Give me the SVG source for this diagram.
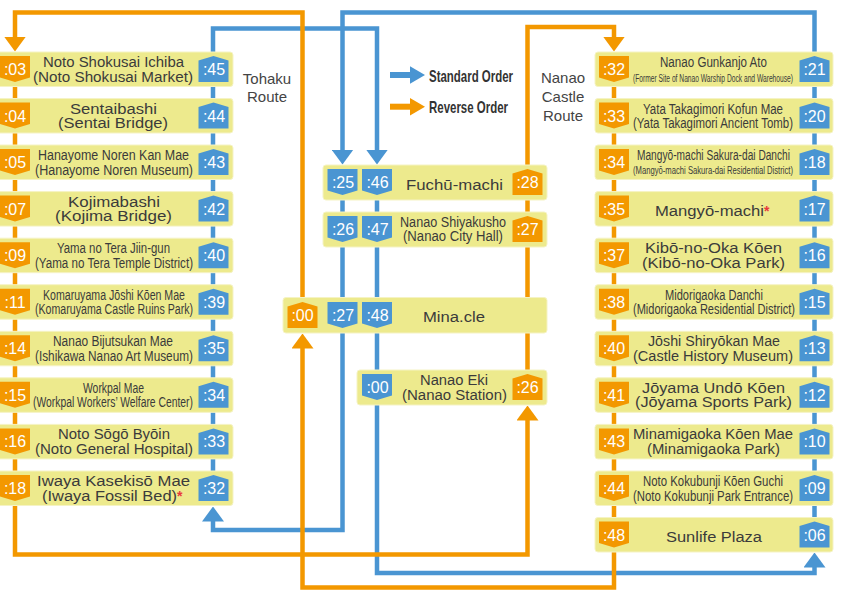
<svg xmlns="http://www.w3.org/2000/svg" xmlns:xlink="http://www.w3.org/1999/xlink" width="842" height="591" viewBox="0 0 842 591">
<style>
.bg{fill:#ffffff}
.box{fill:#EDEA8D;stroke:#F5F3C4;stroke-width:1}
.o{fill:#F39800}
.b{fill:#4A95D2}
.ol{fill:none;stroke:#F39800;stroke-width:4.5}
.bl{fill:none;stroke:#4A95D2;stroke-width:4.5}
text{font-family:"Liberation Sans",Arial,sans-serif}
.tx{fill:#3b3b3b;text-anchor:middle}
.ts{fill:#3b3b3b;text-anchor:start}
.l{font-size:15.3px}
.m{font-size:14px}
.s{font-size:11.5px}
.xs{font-size:10px}
.bt{fill:#ffffff;font-size:16px;text-anchor:middle}
.ast{fill:#E8383D;font-size:14px;font-weight:bold}
.rl{fill:#444444;font-size:15px;text-anchor:middle}
.lg{fill:#333333;font-size:17px;font-weight:bold}
</style>
<defs>
<path id="bdn" d="M-15,-13 H15 V8.5 L0,13 L-15,8.5 Z"/>
<path id="bup" d="M0,-13 L15,-8.5 V13 H-15 V-8.5 Z"/>
<marker id="ao" viewBox="0 -11 15 22" markerWidth="15" markerHeight="22" refX="0.5" refY="0" orient="auto" markerUnits="userSpaceOnUse"><path d="M0,-11 L15,0 L0,11 Z" fill="#F39800"/></marker>
<marker id="ab" viewBox="0 -11 15 22" markerWidth="15" markerHeight="22" refX="0.5" refY="0" orient="auto" markerUnits="userSpaceOnUse"><path d="M0,-11 L15,0 L0,11 Z" fill="#4A95D2"/></marker>
</defs>
<rect class="bg" x="0" y="0" width="842" height="591"/>

<g id="connectors">
<path class="bl" d="M814.5,552 V12.5 H342.5 V150" marker-end="url(#ab)"/>
<path class="bl" d="M342.5,200 V530 H213 V521" marker-end="url(#ab)"/>
<path class="bl" d="M213,506 V28.5 H377 V150" marker-end="url(#ab)"/>
<path class="bl" d="M377,200 V573 H814.5 V567" marker-end="url(#ab)"/>
<path class="ol" d="M302.5,297 V12.5 H15 V37" marker-end="url(#ao)"/>
<path class="ol" d="M15,52 V554.5 H527.5 V420" marker-end="url(#ao)"/>
<path class="ol" d="M527.5,370 V27 H614 V37" marker-end="url(#ao)"/>
<path class="ol" d="M614,52 V587.5 H302.5 V348" marker-end="url(#ao)"/>
</g>

<g id="legend">
<rect class="b" x="390" y="72" width="21" height="6"/>
<polygon class="b" points="410,66.2 425,75 410,83.8"/>
<text class="lg" x="429" y="81.5" textLength="84" lengthAdjust="spacingAndGlyphs">Standard Order</text>
<rect class="o" x="390" y="103.7" width="21" height="6"/>
<polygon class="o" points="410,97.9 425,106.7 410,115.5"/>
<text class="lg" x="429" y="113.2" textLength="79" lengthAdjust="spacingAndGlyphs">Reverse Order</text>
</g>

<g id="label-tohaku">
<text class="rl" x="267" y="83.5">Tohaku</text>
<text class="rl" x="267" y="102">Route</text>
</g>
<g id="label-nanao-castle">
<text class="rl" x="563" y="83">Nanao</text>
<text class="rl" x="563" y="102">Castle</text>
<text class="rl" x="563" y="120.5">Route</text>
</g>

<!-- Left column: Tohaku Route -->
<g id="n-noto-shokusai" transform="translate(0,52)">
<rect class="box" x="-5" y="0" width="238" height="34.5" rx="3"/>
<use href="#bdn" class="o" x="15" y="17"/><text class="bt" x="15" y="23">:03</text>
<use href="#bup" class="b" x="213.5" y="17"/><text class="bt" x="214" y="23">:45</text>
<text class="tx l" x="113.5" y="15" textLength="141" lengthAdjust="spacingAndGlyphs">Noto Shokusai Ichiba</text>
<text class="tx l" x="113" y="29.5" textLength="160" lengthAdjust="spacingAndGlyphs">(Noto Shokusai Market)</text>
</g>
<g id="n-sentaibashi" transform="translate(0,98.5)">
<rect class="box" x="-5" y="0" width="238" height="34.5" rx="3"/>
<use href="#bdn" class="o" x="15" y="17"/><text class="bt" x="15" y="23">:04</text>
<use href="#bup" class="b" x="213.5" y="17"/><text class="bt" x="214" y="23">:44</text>
<text class="tx l" x="113.5" y="15" textLength="87" lengthAdjust="spacingAndGlyphs">Sentaibashi</text>
<text class="tx l" x="113" y="29.5" textLength="110" lengthAdjust="spacingAndGlyphs">(Sentai Bridge)</text>
</g>
<g id="n-hanayome" transform="translate(0,145)">
<rect class="box" x="-5" y="0" width="238" height="34.5" rx="3"/>
<use href="#bdn" class="o" x="15" y="17"/><text class="bt" x="15" y="23">:05</text>
<use href="#bup" class="b" x="213.5" y="17"/><text class="bt" x="214" y="23">:43</text>
<text class="tx m" x="113.5" y="15" textLength="151" lengthAdjust="spacingAndGlyphs">Hanayome Noren Kan Mae</text>
<text class="tx m" x="114" y="29.5" textLength="158" lengthAdjust="spacingAndGlyphs">(Hanayome Noren Museum)</text>
</g>
<g id="n-kojimabashi" transform="translate(0,191.6)">
<rect class="box" x="-5" y="0" width="238" height="34.5" rx="3"/>
<use href="#bdn" class="o" x="15" y="17"/><text class="bt" x="15" y="23">:07</text>
<use href="#bup" class="b" x="213.5" y="17"/><text class="bt" x="214" y="23">:42</text>
<text class="tx l" x="114" y="15" textLength="92" lengthAdjust="spacingAndGlyphs">Kojimabashi</text>
<text class="tx l" x="113.5" y="29.5" textLength="117" lengthAdjust="spacingAndGlyphs">(Kojima Bridge)</text>
</g>
<g id="n-yama-no-tera" transform="translate(0,238.2)">
<rect class="box" x="-5" y="0" width="238" height="34.5" rx="3"/>
<use href="#bdn" class="o" x="15" y="17"/><text class="bt" x="15" y="23">:09</text>
<use href="#bup" class="b" x="213.5" y="17"/><text class="bt" x="214" y="23">:40</text>
<text class="tx m" x="113.5" y="15" textLength="113" lengthAdjust="spacingAndGlyphs">Yama no Tera Jiin-gun</text>
<text class="tx m" x="114" y="29.5" textLength="158" lengthAdjust="spacingAndGlyphs">(Yama no Tera Temple District)</text>
</g>
<g id="n-komaruyama" transform="translate(0,284.7)">
<rect class="box" x="-5" y="0" width="238" height="34.5" rx="3"/>
<use href="#bdn" class="o" x="15" y="17"/><text class="bt" x="15" y="23">:11</text>
<use href="#bup" class="b" x="213.5" y="17"/><text class="bt" x="214" y="23">:39</text>
<text class="tx m" x="114" y="15" textLength="142" lengthAdjust="spacingAndGlyphs">Komaruyama Jōshi Kōen Mae</text>
<text class="tx m" x="114" y="29.5" textLength="158" lengthAdjust="spacingAndGlyphs">(Komaruyama Castle Ruins Park)</text>
</g>
<g id="n-bijutsukan" transform="translate(0,331.3)">
<rect class="box" x="-5" y="0" width="238" height="34.5" rx="3"/>
<use href="#bdn" class="o" x="15" y="17"/><text class="bt" x="15" y="23">:14</text>
<use href="#bup" class="b" x="213.5" y="17"/><text class="bt" x="214" y="23">:35</text>
<text class="tx m" x="113" y="15" textLength="120" lengthAdjust="spacingAndGlyphs">Nanao Bijutsukan Mae</text>
<text class="tx m" x="114" y="29.5" textLength="158" lengthAdjust="spacingAndGlyphs">(Ishikawa Nanao Art Museum)</text>
</g>
<g id="n-workpal" transform="translate(0,377.8)">
<rect class="box" x="-5" y="0" width="238" height="34.5" rx="3"/>
<use href="#bdn" class="o" x="15" y="17"/><text class="bt" x="15" y="23">:15</text>
<use href="#bup" class="b" x="213.5" y="17"/><text class="bt" x="214" y="23">:34</text>
<text class="tx m" x="113.5" y="15" textLength="61" lengthAdjust="spacingAndGlyphs">Workpal Mae</text>
<text class="tx m" x="113" y="29.5" textLength="160" lengthAdjust="spacingAndGlyphs">(Workpal Workers’ Welfare Center)</text>
</g>
<g id="n-noto-sogo" transform="translate(0,424.4)">
<rect class="box" x="-5" y="0" width="238" height="34.5" rx="3"/>
<use href="#bdn" class="o" x="15" y="17"/><text class="bt" x="15" y="23">:16</text>
<use href="#bup" class="b" x="213.5" y="17"/><text class="bt" x="214" y="23">:33</text>
<text class="tx l" x="114" y="15" textLength="112" lengthAdjust="spacingAndGlyphs">Noto Sōgō Byōin</text>
<text class="tx l" x="114" y="29.5" textLength="158" lengthAdjust="spacingAndGlyphs">(Noto General Hospital)</text>
</g>
<g id="n-iwaya" transform="translate(0,471)">
<rect class="box" x="-5" y="0" width="238" height="34.5" rx="3"/>
<use href="#bdn" class="o" x="15" y="17"/><text class="bt" x="15" y="23">:18</text>
<use href="#bup" class="b" x="213.5" y="17"/><text class="bt" x="214" y="23">:32</text>
<text class="tx l" x="113.5" y="15" textLength="153" lengthAdjust="spacingAndGlyphs">Iwaya Kasekisō Mae</text>
<text class="ts l" x="42" y="29.5" textLength="135" lengthAdjust="spacingAndGlyphs">(Iwaya Fossil Bed)</text>
<text class="ast" x="177" y="30">*</text>
</g>

<!-- Center -->
<g id="n-fuchu" transform="translate(0,165)">
<rect class="box" x="323" y="0" width="224" height="35" rx="3"/>
<use href="#bdn" class="b" x="342.5" y="17"/><text class="bt" x="343" y="23">:25</text>
<use href="#bdn" class="b" x="377" y="17"/><text class="bt" x="377.5" y="23">:46</text>
<use href="#bup" class="o" x="527.5" y="17"/><text class="bt" x="527.5" y="23">:28</text>
<text class="tx l" x="454.5" y="25" textLength="97" lengthAdjust="spacingAndGlyphs">Fuchū-machi</text>
</g>
<g id="n-shiyakusho" transform="translate(0,212)">
<rect class="box" x="323" y="0" width="224" height="35" rx="3"/>
<use href="#bdn" class="b" x="342.5" y="17"/><text class="bt" x="343" y="23">:26</text>
<use href="#bdn" class="b" x="377" y="17"/><text class="bt" x="377.5" y="23">:47</text>
<use href="#bup" class="o" x="527.5" y="17"/><text class="bt" x="527.5" y="23">:27</text>
<text class="tx m" x="453" y="14.5" textLength="106" lengthAdjust="spacingAndGlyphs">Nanao Shiyakusho</text>
<text class="tx m" x="453" y="29" textLength="100" lengthAdjust="spacingAndGlyphs">(Nanao City Hall)</text>
</g>
<g id="n-minacle" transform="translate(0,297.5)">
<rect class="box" x="283" y="0" width="264" height="35.5" rx="3"/>
<use href="#bup" class="o" x="302.5" y="17.5"/><text class="bt" x="302.5" y="23.5">:00</text>
<use href="#bdn" class="b" x="342.5" y="17.5"/><text class="bt" x="343" y="23.5">:27</text>
<use href="#bdn" class="b" x="377" y="17.5"/><text class="bt" x="377.5" y="23.5">:48</text>
<text class="tx l" x="454" y="24.5" textLength="62" lengthAdjust="spacingAndGlyphs">Mina.cle</text>
</g>
<g id="n-nanao-eki" transform="translate(0,370)">
<rect class="box" x="357" y="0" width="190" height="35" rx="3"/>
<use href="#bdn" class="b" x="377" y="17"/><text class="bt" x="377.5" y="23">:00</text>
<use href="#bup" class="o" x="527.5" y="17"/><text class="bt" x="527.5" y="23">:26</text>
<text class="tx l" x="454" y="15" textLength="68" lengthAdjust="spacingAndGlyphs">Nanao Eki</text>
<text class="tx l" x="454.5" y="30" textLength="105" lengthAdjust="spacingAndGlyphs">(Nanao Station)</text>
</g>

<!-- Right column: Nanao Castle Route -->
<g id="n-gunkanjo" transform="translate(0,52)">
<rect class="box" x="595" y="0" width="238" height="34.5" rx="3"/>
<use href="#bdn" class="o" x="614" y="17"/><text class="bt" x="614" y="23">:32</text>
<use href="#bup" class="b" x="814.5" y="17"/><text class="bt" x="814.5" y="23">:21</text>
<text class="tx l" x="713.5" y="15" textLength="107" lengthAdjust="spacingAndGlyphs">Nanao Gunkanjo Ato</text>
<text class="tx xs" x="713" y="29.5" textLength="160" lengthAdjust="spacingAndGlyphs">(Former Site of Nanao Warship Dock and Warehouse)</text>
</g>
<g id="n-yata" transform="translate(0,98.5)">
<rect class="box" x="595" y="0" width="238" height="34.5" rx="3"/>
<use href="#bdn" class="o" x="614" y="17"/><text class="bt" x="614" y="23">:33</text>
<use href="#bup" class="b" x="814.5" y="17"/><text class="bt" x="814.5" y="23">:20</text>
<text class="tx l" x="713" y="15" textLength="140" lengthAdjust="spacingAndGlyphs">Yata Takagimori Kofun Mae</text>
<text class="tx l" x="713" y="29.5" textLength="160" lengthAdjust="spacingAndGlyphs">(Yata Takagimori Ancient Tomb)</text>
</g>
<g id="n-sakura-dai" transform="translate(0,145)">
<rect class="box" x="595" y="0" width="238" height="34.5" rx="3"/>
<use href="#bdn" class="o" x="614" y="17"/><text class="bt" x="614" y="23">:34</text>
<use href="#bup" class="b" x="814.5" y="17"/><text class="bt" x="814.5" y="23">:18</text>
<text class="tx m" x="713.5" y="15" textLength="153" lengthAdjust="spacingAndGlyphs">Mangyō-machi Sakura-dai Danchi</text>
<text class="tx s" x="713" y="29" textLength="160" lengthAdjust="spacingAndGlyphs">(Mangyō-machi Sakura-dai Residential District)</text>
</g>
<g id="n-mangyo" transform="translate(0,191.6)">
<rect class="box" x="595" y="0" width="238" height="34.5" rx="3"/>
<use href="#bdn" class="o" x="614" y="17"/><text class="bt" x="614" y="23">:35</text>
<use href="#bup" class="b" x="814.5" y="17"/><text class="bt" x="814.5" y="23">:17</text>
<text class="ts l" x="655" y="24" textLength="109" lengthAdjust="spacingAndGlyphs">Mangyō-machi</text>
<text class="ast" x="764" y="24.5">*</text>
</g>
<g id="n-kibo" transform="translate(0,238.2)">
<rect class="box" x="595" y="0" width="238" height="34.5" rx="3"/>
<use href="#bdn" class="o" x="614" y="17"/><text class="bt" x="614" y="23">:37</text>
<use href="#bup" class="b" x="814.5" y="17"/><text class="bt" x="814.5" y="23">:16</text>
<text class="tx l" x="713.5" y="15" textLength="137" lengthAdjust="spacingAndGlyphs">Kibō-no-Oka Kōen</text>
<text class="tx l" x="713.5" y="29.5" textLength="143" lengthAdjust="spacingAndGlyphs">(Kibō-no-Oka Park)</text>
</g>
<g id="n-midorigaoka" transform="translate(0,284.7)">
<rect class="box" x="595" y="0" width="238" height="34.5" rx="3"/>
<use href="#bdn" class="o" x="614" y="17"/><text class="bt" x="614" y="23">:38</text>
<use href="#bup" class="b" x="814.5" y="17"/><text class="bt" x="814.5" y="23">:15</text>
<text class="tx m" x="714" y="15" textLength="98" lengthAdjust="spacingAndGlyphs">Midorigaoka Danchi</text>
<text class="tx m" x="714" y="29.5" textLength="162" lengthAdjust="spacingAndGlyphs">(Midorigaoka Residential District)</text>
</g>
<g id="n-joshi" transform="translate(0,331.3)">
<rect class="box" x="595" y="0" width="238" height="34.5" rx="3"/>
<use href="#bdn" class="o" x="614" y="17"/><text class="bt" x="614" y="23">:40</text>
<use href="#bup" class="b" x="814.5" y="17"/><text class="bt" x="814.5" y="23">:13</text>
<text class="tx l" x="714" y="15" textLength="132" lengthAdjust="spacingAndGlyphs">Jōshi Shiryōkan Mae</text>
<text class="tx l" x="713" y="29.5" textLength="160" lengthAdjust="spacingAndGlyphs">(Castle History Museum)</text>
</g>
<g id="n-joyama" transform="translate(0,377.8)">
<rect class="box" x="595" y="0" width="238" height="34.5" rx="3"/>
<use href="#bdn" class="o" x="614" y="17"/><text class="bt" x="614" y="23">:41</text>
<use href="#bup" class="b" x="814.5" y="17"/><text class="bt" x="814.5" y="23">:12</text>
<text class="tx l" x="713.5" y="15" textLength="143" lengthAdjust="spacingAndGlyphs">Jōyama Undō Kōen</text>
<text class="tx l" x="713.5" y="29.5" textLength="157" lengthAdjust="spacingAndGlyphs">(Jōyama Sports Park)</text>
</g>
<g id="n-minamigaoka" transform="translate(0,424.4)">
<rect class="box" x="595" y="0" width="238" height="34.5" rx="3"/>
<use href="#bdn" class="o" x="614" y="17"/><text class="bt" x="614" y="23">:43</text>
<use href="#bup" class="b" x="814.5" y="17"/><text class="bt" x="814.5" y="23">:10</text>
<text class="tx l" x="713" y="15" textLength="160" lengthAdjust="spacingAndGlyphs">Minamigaoka Kōen Mae</text>
<text class="tx l" x="713.5" y="29.5" textLength="133" lengthAdjust="spacingAndGlyphs">(Minamigaoka Park)</text>
</g>
<g id="n-kokubunji" transform="translate(0,471)">
<rect class="box" x="595" y="0" width="238" height="34.5" rx="3"/>
<use href="#bdn" class="o" x="614" y="17"/><text class="bt" x="614" y="23">:44</text>
<use href="#bup" class="b" x="814.5" y="17"/><text class="bt" x="814.5" y="23">:09</text>
<text class="tx m" x="713" y="15" textLength="140" lengthAdjust="spacingAndGlyphs">Noto Kokubunji Kōen Guchi</text>
<text class="tx m" x="713" y="29.5" textLength="160" lengthAdjust="spacingAndGlyphs">(Noto Kokubunji Park Entrance)</text>
</g>
<g id="n-sunlife" transform="translate(0,517.5)">
<rect class="box" x="595" y="0" width="238" height="34.5" rx="3"/>
<use href="#bdn" class="o" x="614" y="17"/><text class="bt" x="614" y="23">:48</text>
<use href="#bup" class="b" x="814.5" y="17"/><text class="bt" x="814.5" y="23">:06</text>
<text class="tx l" x="714" y="24.5" textLength="96" lengthAdjust="spacingAndGlyphs">Sunlife Plaza</text>
</g>
</svg>
